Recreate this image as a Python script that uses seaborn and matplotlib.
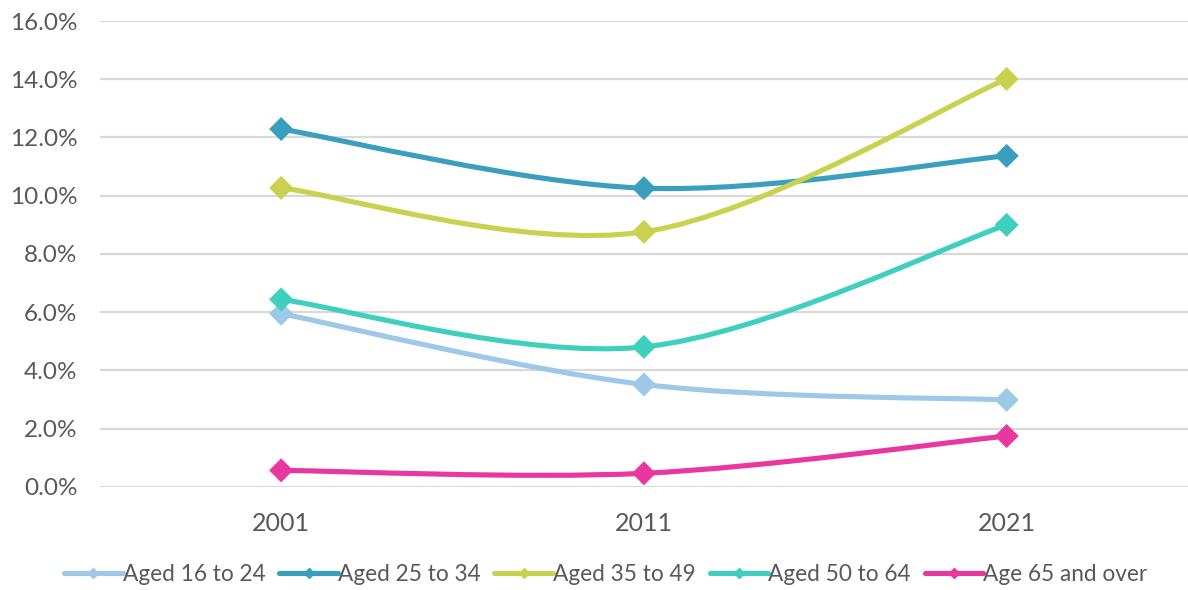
import numpy as np
import pandas as pd
import matplotlib
matplotlib.use("Agg")
import matplotlib.pyplot as plt
import seaborn as sns
from matplotlib.path import Path
from matplotlib.patches import PathPatch
from matplotlib.lines import Line2D
from matplotlib.ticker import FuncFormatter

# Chart data (percent)
years = ["2001", "2011", "2021"]
groups = ["Aged 16 to 24", "Aged 25 to 34", "Aged 35 to 49", "Aged 50 to 64", "Age 65 and over"]
aged_16_24 = [5.95, 3.52, 2.99]
aged_25_34 = [12.29, 10.26, 11.37]
aged_35_49 = [10.27, 8.76, 14.01]
aged_50_64 = [6.44, 4.81, 9.00]
aged_65_over = [0.57, 0.47, 1.75]
colors = ["#9dc8e8", "#3a9fbf", "#c8d24e", "#3ed0bd", "#e8379f"]

series = [aged_16_24, aged_25_34, aged_35_49, aged_50_64, aged_65_over]
df = pd.DataFrame({
    "pos": np.tile(np.arange(len(years)), len(groups)),
    "value": np.concatenate(series),
    "group": np.repeat(groups, len(years)),
})

sns.set_style("white")
plt.rcParams['font.family'] = ['Lato', 'DejaVu Sans']

fig = plt.figure(figsize=(11.88, 5.9), dpi=100)
ax = fig.add_axes([0.084, 0.1746, 0.916, 0.7898])


def smooth_path(xs, ys):
    # Excel-style smoothed line: cubic Bezier through the points
    pts = np.column_stack([xs, ys]).astype(float)
    n = len(pts)
    verts = [pts[0]]
    codes = [Path.MOVETO]
    for i in range(n - 1):
        p0 = pts[max(i - 1, 0)]
        p1 = pts[i]
        p2 = pts[i + 1]
        p3 = pts[min(i + 2, n - 1)]
        c1 = p1 + (p2 - p0) / 6.0
        c2 = p2 - (p3 - p1) / 6.0
        verts += [c1, c2, p2]
        codes += [Path.CURVE4] * 3
    return Path(verts, codes)


for g, c in zip(groups, colors):
    sub = df[df["group"] == g]
    patch = PathPatch(smooth_path(sub["pos"], sub["value"]), fill=False,
                      edgecolor=c, lw=3.7, capstyle="round", joinstyle="round", zorder=3)
    ax.add_patch(patch)

sns.scatterplot(data=df, x="pos", y="value", hue="group", palette=colors,
                marker="D", s=150, linewidth=0, legend=False, ax=ax, zorder=4)

ax.set_xlim(-0.5, 2.5)
ax.set_ylim(0, 16)
ax.set_yticks(np.arange(0, 16.1, 2))
ax.yaxis.set_major_formatter(FuncFormatter(lambda v, p: f"{v:.1f}%"))
ax.set_xticks(range(len(years)))
ax.set_xticklabels(years)
ax.set_xlabel("")
ax.set_ylabel("")
ax.grid(axis="y", color="#d9d9d9", lw=1.6, zorder=0)
ax.grid(axis="x", visible=False)
for s in ax.spines.values():
    s.set_visible(False)
ax.tick_params(axis="y", length=0, pad=16, labelsize=17.5, labelcolor="#595959")
ax.tick_params(axis="x", length=0, pad=18, labelsize=18, labelcolor="#595959")

handles = [Line2D([0], [0], color=c, lw=3.7, marker="D", markersize=5) for c in colors]
fig.legend(handles, groups, loc="center", bbox_to_anchor=(0.51, 0.026), ncol=5,
           frameon=False, fontsize=16.3, handlelength=2.6, handletextpad=0.0,
           columnspacing=0.6, labelcolor="#595959")

fig.savefig("out.png", dpi=100)
